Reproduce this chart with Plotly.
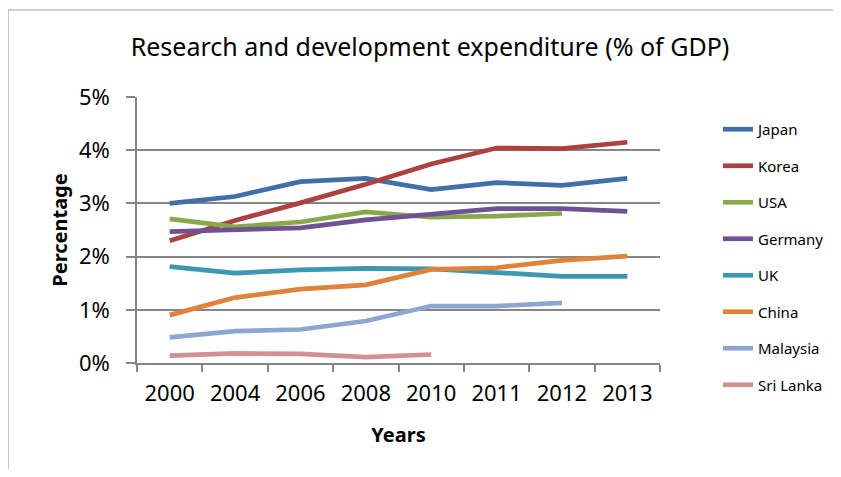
import plotly.graph_objects as go

years = ["2000", "2004", "2006", "2008", "2010", "2011", "2012", "2013"]
countries = ["Japan", "Korea", "USA", "Germany", "UK", "China", "Malaysia", "Sri Lanka"]
japan = [3.00, 3.13, 3.41, 3.47, 3.26, 3.39, 3.34, 3.47]
korea = [2.30, 2.68, 3.01, 3.36, 3.74, 4.04, 4.03, 4.15]
usa = [2.71, 2.56, 2.65, 2.84, 2.74, 2.76, 2.81, None]
germany = [2.47, 2.50, 2.54, 2.69, 2.80, 2.90, 2.90, 2.85]
uk = [1.81, 1.69, 1.75, 1.78, 1.77, 1.70, 1.63, 1.63]
china = [0.90, 1.23, 1.39, 1.47, 1.76, 1.79, 1.93, 2.01]
malaysia = [0.48, 0.60, 0.63, 0.79, 1.07, 1.07, 1.13, None]
srilanka = [0.14, 0.18, 0.17, 0.11, 0.16, None, None, None]
series = [japan, korea, usa, germany, uk, china, malaysia, srilanka]
colors = ["#4170a8", "#ab423f", "#88a84a", "#6f5295", "#3b98b0", "#e0823a", "#8ea6cf", "#d39092"]

FONT = "Noto Sans"
fig = go.Figure()
for i, (name, vals) in enumerate(zip(countries, series)):
    fig.add_trace(go.Scatter(
        x=years, y=[v / 100 if v is not None else None for v in vals],
        mode="lines", name=name, legendgroup=name,
        line=dict(color=colors[i], width=4.7),
    ))

OFF = 8  # page body margin
L, R, T, B = 137 - OFF, 660 - OFF, 97 - OFF, 363 - OFF
W, H = 841 - 2 * OFF, 477 - 2 * OFF
pw, ph = R - L, B - T

def px(x):
    return (x - OFF - L) / pw

def py(y):
    return (B - (y - OFF)) / ph

fig.update_layout(
    width=W, height=H,
    margin=dict(l=L, r=W - R, t=T, b=H - B, pad=0, autoexpand=False),
    paper_bgcolor="white", plot_bgcolor="white",
    font=dict(family=FONT, color="black"),
    title=dict(text="Research and development expenditure (% of GDP)",
               font=dict(size=25, family=FONT), xref="container", yref="container",
               x=(430 - OFF) / W, xanchor="center", y=1 - (47 - OFF) / H, yanchor="middle"),
    showlegend=True,
    legend=dict(x=px(718), y=py(113), xanchor="left", yanchor="top",
                font=dict(size=15, family=FONT), tracegroupgap=14, maxheight=460,
                bgcolor="rgba(0,0,0,0)"),
    xaxis=dict(type="category", range=[-0.5, 7.5], showgrid=False,
               showline=True, linecolor="#868686", linewidth=1.5,
               ticks="outside", tickson="boundaries", ticklen=7, tickcolor="#868686", tickwidth=1.5,
               tickfont=dict(size=22, family=FONT), ticklabelstandoff=10,
               title=dict(text="<b>Years</b>", font=dict(size=20, family=FONT), standoff=22),
               fixedrange=True),
    yaxis=dict(range=[0, 0.05], dtick=0.01, tickformat=".0%",
               showgrid=True, gridcolor="#868686", gridwidth=1.5,
               showline=True, linecolor="#868686", linewidth=1.5,
               ticks="outside", ticklen=9, tickcolor="#868686", tickwidth=1.5,
               tickfont=dict(size=22, family=FONT), ticklabelstandoff=12,
               title=dict(text="<b>Percentage</b>", font=dict(size=20, family=FONT), standoff=6),
               zeroline=False, fixedrange=True),
    shapes=[dict(type="path", xref="paper", yref="paper",
                 path=f"M {px(8)} {py(490)} L {px(8)} {py(10)} L {px(850)} {py(10)}",
                 line=dict(color="#a6a6a6", width=1.2), layer="below")],
)

fig.write_html("out.html")
